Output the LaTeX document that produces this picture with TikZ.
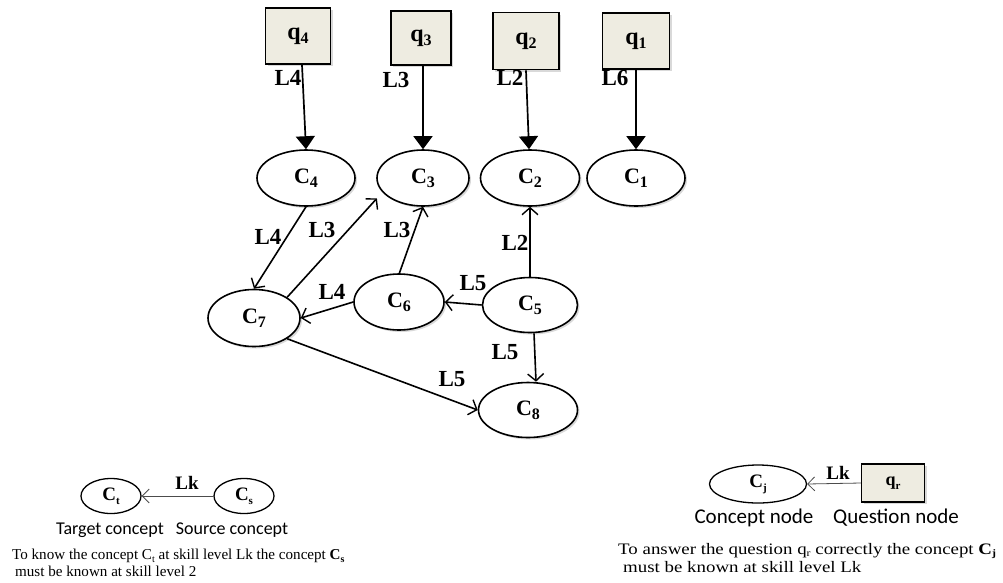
\documentclass[tikz,border=0pt]{standalone}
\usepackage{fontspec}
\setmainfont{Liberation Serif}
\newfontfamily\calfont{Carlito}
\usetikzlibrary{arrows.meta,shadows,shapes.geometric}
\definecolor{qfill}{HTML}{EEECE1}
\newcommand\nlab[2]{\textbf{#1}\raisebox{-0.4ex}{\fontsize{16}{16}\selectfont\textbf{#2}}}
\newcommand\slab[2]{\textbf{#1}\raisebox{-0.45ex}{\fontsize{11}{11}\selectfont\textbf{#2}}}
\newcommand\tsub[1]{\raisebox{-0.4ex}{\fontsize{10}{10}\selectfont #1}}
\begin{document}
\begin{tikzpicture}[x=1pt,y=-1pt,
  qbox/.style={draw,line width=1.8pt,fill=qfill,minimum width=64pt,minimum height=56pt,inner sep=0pt,
     drop shadow={opacity=0.3,shadow xshift=2pt,shadow yshift=-2pt},font=\fontsize{24}{24}\selectfont},
  cnode/.style={draw,ellipse,line width=1.6pt,fill=white,minimum width=96pt,minimum height=56pt,inner sep=0pt,
     drop shadow={opacity=0.3,shadow xshift=2pt,shadow yshift=-2pt},font=\fontsize{22}{22}\selectfont},
  qarrow/.style={line width=1.7pt,-{Triangle[length=13pt,width=19pt]}},
  carrow/.style={line width=1.6pt,-{Straight Barb[length=7pt,width=16pt,line width=1.4pt]}},
  elab/.style={font=\bfseries\fontsize{23}{23}\selectfont,inner sep=0pt},
  lcnode/.style={draw,ellipse,line width=1.3pt,minimum width=60pt,minimum height=35pt,inner sep=0pt,font=\fontsize{19}{19}\selectfont},
  lqbox/.style={draw,line width=1.5pt,fill=qfill,minimum width=63pt,minimum height=38pt,inner sep=0pt,
     drop shadow={opacity=0.3,shadow xshift=2pt,shadow yshift=-2pt},font=\fontsize{18}{18}\selectfont},
  larrow/.style={line width=0.8pt,draw=black!70,-{Straight Barb[length=7pt,width=14pt,line width=0.8pt]}},
  legtxt/.style={font=\calfont\fontsize{18}{18}\selectfont,inner sep=0pt},
  captxt/.style={font=\fontsize{15.1}{15.1}\selectfont,inner sep=0pt,anchor=west}
]
\useasboundingbox (0,0) rectangle (1003,582);
% question nodes
\node[qbox,minimum width=65pt] (q4) at (298,36) {\raisebox{-3pt}{\nlab{q}{4}}};
\node[qbox,minimum width=60pt,minimum height=54pt] (q3) at (421,38) {\raisebox{-3pt}{\nlab{q}{3}}};
\node[qbox,minimum width=66pt,minimum height=57pt] (q2) at (526,41) {\raisebox{-3pt}{\nlab{q}{2}}};
\node[qbox,minimum width=67pt] (q1) at (636,41) {\raisebox{-3pt}{\nlab{q}{1}}};
% concept nodes
\node[cnode,minimum width=98pt] (c4) at (306,178) {\nlab{C}{4}};
\node[cnode,minimum width=92pt] (c3) at (423,178) {\nlab{C}{3}};
\node[cnode,minimum width=99pt] (c2) at (530,178) {\nlab{C}{2}};
\node[cnode,minimum width=98pt] (c1) at (636,178) {\nlab{C}{1}};
\node[cnode,minimum width=92pt,minimum height=57pt] (c7) at (254,318) {\nlab{C}{7}};
\node[cnode,minimum width=90pt] (c6) at (399,302) {\nlab{C}{6}};
\node[cnode,minimum width=95pt,minimum height=55pt] (c5) at (530,305) {\nlab{C}{5}};
\node[cnode,minimum width=99pt,minimum height=55pt] (c8) at (528,410) {\nlab{C}{8}};
% q -> C arrows
\draw[qarrow] ([xshift=4pt]q4.south) -- (c4.north);
\draw[qarrow] ([xshift=2pt]q3.south) -- (c3.north);
\draw[qarrow] (q2.south) -- ([xshift=-1pt]c2.north);
\draw[qarrow] (q1.south) -- (c1.north);
\node[elab] (l4) at (288,78) {L4};
\node[elab] (l3) at (396,80) {L3};
\node[elab] (l2) at (510,78) {L2};
\node[elab] (l6) at (615,78) {L6};
% concept arrows
\draw[carrow] (c4.south) -- (c7.north);
\draw[carrow] (c7.north east) -- ([xshift=-13pt]c3.south west);
\draw[carrow] ([yshift=-1pt]c6.north) -- (c3.south);
\draw[carrow] (c5.north) -- (c2.south);
\draw[carrow] (c5.west) -- (c6.east);
\draw[carrow] (c6.west) -- (c7.east);
\draw[carrow] ([xshift=4pt]c5.south) -- ([xshift=8pt]c8.north);
\draw[carrow] (c7.south east) -- (c8.west);
\node[elab] (e1) at (268,237) {L4};
\node[elab] (e2) at (322,230) {L3};
\node[elab] (e3) at (397,230) {L3};
\node[elab] (e4) at (515,243) {L2};
\node[elab] (e5) at (473,283) {L5};
\node[elab] (e6) at (332,292) {L4};
\node[elab] (e7) at (505,352) {L5};
\node[elab] (e8) at (452,379) {L5};
% legend left
\node[lcnode] (ct) at (111,496) {\slab{C}{t}};
\node[lcnode] (cs) at (244,496) {\slab{C}{s}};
\draw[larrow] (cs.west) -- (ct.east);
\node[font=\bfseries\fontsize{19}{19}\selectfont,inner sep=0pt] (lk1) at (187,483) {Lk};
\node[legtxt] (tt) at (110,530) {Target concept};
\node[legtxt] (st) at (232,530) {Source concept};
\node[captxt] (cap1) at (12,556) {To know the concept C\tsub{t} at skill level Lk the concept \textbf{C}\tsub{\textbf{s}}};
\node[captxt] (cap2) at (15,571) {must be known at skill level 2};
% legend right
\node[lcnode,minimum width=97pt,minimum height=38pt] (cj) at (758,484) {\slab{C}{j}};
\node[lqbox] (qr) at (893,483) {\slab{q}{r}};
\draw[larrow] (qr.west) -- (cj.east);
\node[font=\bfseries\fontsize{19}{19}\selectfont,inner sep=0pt] (lk2) at (838,473) {Lk};
\node[legtxt,font=\calfont\fontsize{21}{21}\selectfont] (cn) at (754,518) {Concept node};
\node[legtxt,font=\calfont\fontsize{21}{21}\selectfont] (qn) at (896,518) {Question node};
\node[captxt,font=\fontsize{16}{16}\selectfont,xscale=1.18] (cap3) at (618,551) {To answer the question q\tsub{r} correctly the concept \textbf{C}\tsub{\textbf{j}}};
\node[captxt,font=\fontsize{16}{16}\selectfont,xscale=1.18] (cap4) at (623,567) {must be known at skill level Lk};
\end{tikzpicture}
\end{document}
